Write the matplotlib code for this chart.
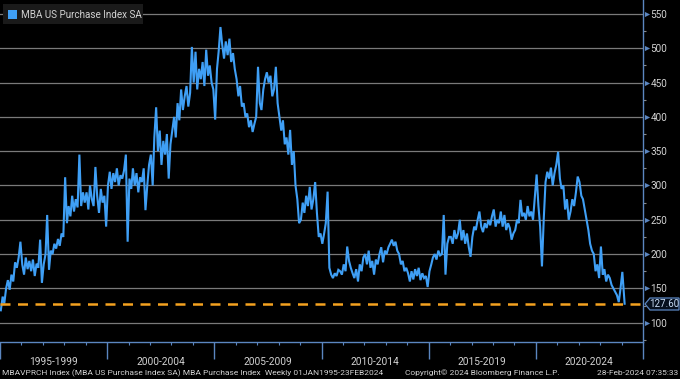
import matplotlib
matplotlib.use("Agg")
import matplotlib.pyplot as plt
import matplotlib.dates as mdates
from matplotlib.patches import Rectangle, Polygon
from matplotlib.transforms import blended_transform_factory
import numpy as np
import pandas as pd

plt.rcParams["font.family"] = ["Roboto", "DejaVu Sans"]

# ---- data (monthly readings of the weekly MBA purchase index) ----
v1995 = [118, 138, 128, 150, 162, 148, 170, 160, 188, 180, 195, 218]
v1996 = [185, 170, 195, 178, 190, 175, 192, 168, 186, 180, 221, 158]
v1997 = [185, 200, 257, 177, 205, 200, 215, 208, 222, 212, 230, 225]
v1998 = [312, 245, 270, 255, 285, 262, 280, 268, 345, 270, 290, 275]
v1999 = [290, 265, 300, 280, 270, 327, 285, 260, 295, 275, 285, 240]
v2000 = [300, 320, 295, 318, 305, 325, 300, 315, 310, 322, 345, 218]
v2001 = [310, 295, 325, 300, 318, 290, 312, 305, 325, 264, 300, 330]
v2002 = [345, 300, 370, 414, 350, 380, 330, 365, 345, 375, 310, 360]
v2003 = [380, 400, 370, 420, 395, 440, 410, 430, 445, 415, 435, 502]
v2004 = [450, 495, 440, 470, 455, 480, 445, 498, 460, 475, 450, 440]
v2005 = [396, 470, 495, 531, 505, 485, 510, 490, 514, 480, 493, 470]
v2006 = [455, 430, 445, 415, 420, 400, 405, 385, 395, 378, 390, 400]
v2007 = [473, 420, 410, 440, 455, 465, 450, 460, 430, 440, 473, 420]
v2008 = [400, 380, 395, 360, 370, 345, 381, 330, 350, 300, 280, 245]
v2009 = [250, 275, 260, 285, 270, 298, 265, 280, 305, 260, 225, 230]
v2010 = [215, 230, 245, 291, 180, 170, 165, 172, 168, 177, 175, 170]
v2011 = [185, 175, 211, 190, 180, 172, 165, 178, 160, 185, 175, 195]
v2012 = [200, 185, 205, 180, 190, 170, 192, 185, 200, 210, 188, 205]
v2013 = [200, 210, 215, 221, 212, 218, 205, 200, 185, 190, 175, 180]
v2014 = [172, 160, 175, 163, 178, 168, 180, 162, 172, 165, 168, 152]
v2015 = [175, 185, 195, 200, 192, 205, 198, 200, 257, 170, 215, 225]
v2016 = [225, 215, 235, 222, 230, 250, 220, 235, 215, 230, 210, 196]
v2017 = [225, 240, 235, 250, 262, 240, 232, 245, 238, 250, 242, 255]
v2018 = [265, 240, 250, 245, 262, 240, 257, 235, 245, 238, 221, 230]
v2019 = [235, 250, 245, 279, 255, 260, 250, 270, 255, 262, 250, 283]
v2020 = [316, 270, 240, 182, 250, 305, 320, 310, 326, 300, 318, 330]
v2021 = [349, 310, 295, 300, 265, 280, 250, 262, 280, 270, 290, 313]
v2022 = [305, 285, 280, 265, 250, 235, 215, 205, 200, 175, 185, 165]
v2023 = [211, 170, 178, 160, 170, 165, 155, 150, 145, 140, 130, 150]
v2024 = [174, 127.6]

values = (v1995 + v1996 + v1997 + v1998 + v1999 + v2000 + v2001 + v2002 +
          v2003 + v2004 + v2005 + v2006 + v2007 + v2008 + v2009 + v2010 +
          v2011 + v2012 + v2013 + v2014 + v2015 + v2016 + v2017 + v2018 +
          v2019 + v2020 + v2021 + v2022 + v2023 + v2024)
dates = pd.date_range("1995-01-01", periods=len(values) - 1, freq="MS") + pd.Timedelta(days=14)
dates = list(dates) + [pd.Timestamp("2024-02-23")]

last_value = 127.60
period_labels = ["1995-1999", "2000-2004", "2005-2009", "2010-2014", "2015-2019", "2020-2024"]
y_ticks = [100, 150, 200, 250, 300, 350, 400, 450, 500, 550]
legend_label = "MBA US Purchase Index SA"

# ---- styling ----
W, H = 680, 379
BG = "#000000"
LINE = "#3f9ff5"
AXIS = "#5b86c0"
GRID = "#7a7a7a"
TXT = "#d2d2d2"
ORANGE = "#f5a21f"

fig = plt.figure(figsize=(W / 100, H / 100), dpi=100, facecolor=BG)
ax_right = 643
ax_bottom = 342
ax = fig.add_axes([0, 1 - ax_bottom / H, ax_right / W, ax_bottom / H], facecolor=BG)

ax.plot(dates, values, color=LINE, lw=1.5, zorder=3, solid_joinstyle="miter")
ax.axhline(last_value, color=ORANGE, lw=1.8, dashes=(4, 3), zorder=4)

ax.set_xlim(pd.Timestamp("1995-01-01"), pd.Timestamp("2025-01-01"))
ax.set_ylim(71.8, 570.4)

for yv in y_ticks:
    ax.axhline(yv, color=GRID, lw=0.9, zorder=1)

for s in ["left", "top"]:
    ax.spines[s].set_visible(False)
ax.spines["right"].set_color(AXIS)
ax.spines["bottom"].set_color(AXIS)
ax.spines["right"].set_linewidth(1.0)
ax.spines["bottom"].set_linewidth(1.0)

# y axis on the right
ax.yaxis.tick_right()
ax.set_yticks(y_ticks)
ax.set_yticklabels([str(t) for t in y_ticks])
ax.set_yticks(np.arange(75, 575, 50), minor=True)
ax.tick_params(axis="y", which="major", length=0, pad=5.5, labelsize=7.2, labelcolor=TXT)
ax.tick_params(axis="y", which="minor", length=2.5, color="#8a8a8a", width=0.8)
tr_y = blended_transform_factory(ax.transAxes, ax.transData)
ax.scatter([1.0 + 3.5 / ax_right] * len(y_ticks), y_ticks, marker=">", s=14,
           color=AXIS, transform=tr_y, clip_on=False, zorder=5, linewidths=0)

# x axis: yearly minor ticks, 5-year dividers
ax.xaxis.set_major_locator(mdates.YearLocator(5))
ax.xaxis.set_minor_locator(mdates.YearLocator(1))
ax.tick_params(axis="x", which="major", length=12, width=1.0, color=AXIS, labelbottom=False)
ax.tick_params(axis="x", which="minor", length=2.5, width=0.8, color=AXIS)
tr_x = blended_transform_factory(ax.transData, ax.transAxes)
for i, lab in enumerate(period_labels):
    mid = pd.Timestamp(f"{1997 + 5 * i}-07-01")
    ax.text(mdates.date2num(mid), -20 / ax_bottom, lab, transform=tr_x, ha="center",
            va="center", color=TXT, fontsize=7.3)

# last value label box on the right axis
x0, x1 = (ax_right + 2) / W, (W - 1) / W
yc = 1 - 304 / H
hh = 6 / H
poly = Polygon([[x0, yc], [x0 + 5 / W, yc + hh], [x1, yc + hh], [x1, yc - hh], [x0 + 5 / W, yc - hh]],
               closed=True, transform=fig.transFigure, facecolor="#06101e", edgecolor=AXIS, lw=0.9)
fig.patches.append(poly)
fig.text((x0 + x1) / 2 + 2 / W, yc, f"{last_value:.2f}", ha="center", va="center",
         color="#c8dcf5", fontsize=7.0)

# legend box
fig.patches.append(Rectangle((3 / W, 1 - 24 / H), 140 / W, 20 / H, transform=fig.transFigure,
                             facecolor="#1a1a1a", edgecolor="none", zorder=5))
fig.patches.append(Rectangle((8 / W, 1 - 18.5 / H), 8.5 / W, 8.5 / H, transform=fig.transFigure,
                             facecolor=LINE, edgecolor="none", zorder=6))
fig.text(21 / W, 1 - 14.5 / H, legend_label, ha="left", va="center", color=TXT,
         fontsize=7.1, zorder=7)

# footer
fy = 1 - 373 / H
fig.text(2 / W, fy, "MBAVPRCH Index (MBA US Purchase Index SA) MBA Purchase Index  Weekly 01JAN1995-23FEB2024",
         ha="left", va="center", color=TXT, fontsize=6.0)
fig.text(482 / W, fy, "Copyright\u00a9 2024 Bloomberg Finance L.P.", ha="center", va="center",
         color=TXT, fontsize=6.0)
fig.text(678 / W, fy, "28-Feb-2024 07:35:33", ha="right", va="center", color=TXT, fontsize=6.0)

fig.savefig("out.png", dpi=100, facecolor=BG)
